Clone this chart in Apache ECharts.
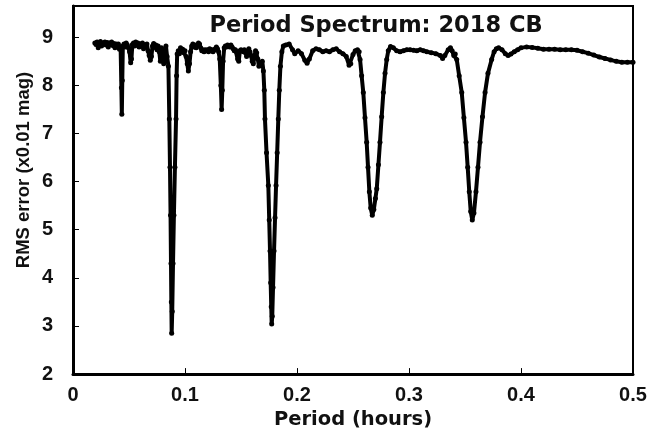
<!DOCTYPE html>
<html><head><meta charset="utf-8">
<script src="https://cdn.jsdelivr.net/npm/echarts@6/dist/echarts.min.js"></script>
<style>html,body{margin:0;padding:0;background:#fff}#c{width:662px;height:435px}</style>
</head><body><div id="c"></div>
<script>
const chartTitle = 'Period Spectrum: 2018 CB';
const xAxisName = 'Period (hours)';
const yAxisName = 'RMS error (x0.01 mag)';
const xTicks = [0, 0.1, 0.2, 0.3, 0.4, 0.5];
const yTicks = [2, 3, 4, 5, 6, 7, 8, 9];

// Period (hours)
const periodHours = [
0.0195,0.0205,0.0215,0.0225,0.0235,0.0245,0.0255,0.0265,0.0275,0.0285,0.0295,0.0305,0.0315,0.0325,0.0335,0.0345,0.0355,0.0365,0.0375,0.0385,0.0395,0.0405,0.0415,0.0425,0.0432,0.0436,0.0440,0.0445,0.0455,0.0465,0.0475,0.0485,0.0495,0.0505,0.0515,0.0522,0.0530,0.0540,0.0550,0.0560,0.0570,0.0580,0.0590,0.0600,0.0610,0.0620,0.0630,0.0640,0.0650,0.0660,0.0670,0.0680,0.0690,0.0700,0.0710,0.0720,0.0730,0.0740,0.0750,0.0760,0.0770,0.0780,0.0790,0.0800,0.0810,0.0820,0.0830,0.0840,
0.0852,0.0860,0.0866,0.0871,0.0875,0.0878,0.0881,0.0886,0.0893,0.0901,0.0910,0.0920,0.0925,0.0930,
0.0940,0.0950,0.0960,0.0970,0.0980,0.0990,0.1000,0.1010,0.1020,0.1030,0.1040,0.1050,0.1060,0.1070,0.1080,0.1090,0.1100,0.1110,0.1120,0.1130,0.1140,0.1150,0.1160,0.1170,0.1180,0.1190,0.1200,0.1210,0.1220,0.1230,0.1240,0.1250,0.1260,0.1270,0.1280,0.1290,0.1300,0.1310,0.1320,0.1327,0.1333,0.1340,0.1350,0.1360,0.1370,0.1380,0.1390,0.1400,0.1410,0.1420,0.1430,0.1440,0.1450,0.1460,0.1470,0.1480,0.1490,0.1500,0.1510,0.1520,0.1530,0.1540,0.1550,0.1560,0.1570,0.1580,0.1590,0.1600,0.1610,0.1620,0.1630,0.1640,0.1650,0.1660,
0.1690,0.1700,0.1708,0.1714,0.1728,0.1744,0.1752,0.1759,0.1765,0.1770,0.1774,0.1779,0.1786,0.1795,0.1804,0.1813,0.1823,0.1833,0.1842,0.1852,0.1865,0.1878,
0.1900,0.1930,0.1960,0.1980,0.2010,0.2040,0.2070,0.2090,0.2110,0.2140,0.2170,0.2200,0.2230,0.2260,0.2290,0.2320,0.2350,0.2380,0.2410,0.2440,0.2465,0.2480,0.2500,0.2520,0.2540,0.2555,
0.2563,0.2577,0.2592,0.2607,0.2622,0.2634,0.2646,0.2658,0.2672,0.2686,0.2700,0.2712,0.2727,0.2741,0.2756,0.2771,0.2786,0.2801,0.2815,0.2835,
0.2860,0.2890,0.2920,0.2950,0.2980,0.3010,0.3040,0.3070,0.3100,0.3130,0.3160,0.3200,0.3240,0.3280,0.3300,0.3320,0.3350,0.3370,0.3385,0.3400,
0.3413,0.3426,0.3448,0.3471,0.3490,0.3509,0.3524,0.3538,0.3551,0.3565,0.3580,0.3598,0.3616,0.3634,0.3656,0.3679,0.3705,0.3738,0.3760,0.3780,
0.3800,0.3830,0.3860,0.3885,0.3910,0.3940,0.3970,0.4000,0.4050,0.4100,0.4150,0.4200,0.4250,0.4300,0.4350,0.4400,0.4450,0.4500,0.4550,0.4600,0.4650,0.4700,0.4750,0.4800,0.4850,0.4900,0.4950,0.5000
];

// RMS error (x0.01 mag)
const rmsError = [
8.88,8.85,8.90,8.78,8.87,8.91,8.82,8.88,8.86,8.90,8.84,8.89,8.80,8.88,8.85,8.90,8.83,8.87,8.78,8.86,8.82,8.86,8.75,8.80,7.95,7.40,8.10,8.82,8.86,8.80,8.88,8.84,8.78,8.70,8.47,8.55,8.85,8.88,8.82,8.90,8.84,8.88,8.80,8.86,8.82,8.88,8.76,8.84,8.80,8.86,8.72,8.62,8.52,8.60,8.82,8.87,8.80,8.84,8.74,8.82,8.70,8.50,8.78,8.66,8.45,8.72,8.82,8.60,
8.40,7.30,6.30,5.30,4.30,3.50,2.85,3.30,4.30,5.30,6.30,7.30,8.20,8.65,
8.72,8.66,8.78,8.70,8.75,8.68,8.72,8.60,8.45,8.30,8.45,8.70,8.82,8.86,8.80,8.84,8.78,8.84,8.88,8.86,8.78,8.72,8.74,8.70,8.74,8.72,8.74,8.70,8.76,8.72,8.74,8.70,8.73,8.76,8.80,8.76,8.70,8.55,8.00,7.50,7.90,8.50,8.78,8.82,8.80,8.84,8.82,8.80,8.84,8.80,8.76,8.72,8.74,8.70,8.55,8.50,8.72,8.74,8.72,8.70,8.74,8.68,8.60,8.72,8.76,8.70,8.62,8.50,8.45,8.60,8.72,8.68,8.55,8.40,
8.50,8.30,7.90,7.30,6.60,5.92,5.20,4.56,3.90,3.40,3.04,3.20,3.80,4.56,5.25,5.92,6.60,7.30,7.90,8.40,8.70,8.82,
8.84,8.86,8.74,8.66,8.72,8.66,8.52,8.46,8.55,8.72,8.76,8.74,8.70,8.72,8.70,8.74,8.76,8.70,8.66,8.60,8.42,8.45,8.64,8.72,8.74,8.70,
8.54,8.20,7.85,7.33,6.82,6.30,5.79,5.45,5.30,5.42,5.65,5.85,6.35,6.82,7.35,7.85,8.25,8.54,8.72,8.81,
8.78,8.72,8.70,8.72,8.74,8.74,8.73,8.72,8.74,8.72,8.70,8.68,8.66,8.62,8.56,8.62,8.74,8.78,8.72,8.62,
8.65,8.54,8.20,7.85,7.33,6.82,6.30,5.79,5.38,5.20,5.35,5.79,6.30,6.82,7.35,7.85,8.25,8.54,8.70,8.76,
8.78,8.74,8.66,8.62,8.65,8.70,8.74,8.78,8.80,8.79,8.77,8.75,8.75,8.75,8.74,8.74,8.74,8.73,8.70,8.67,8.63,8.59,8.56,8.53,8.50,8.48,8.48,8.48
];

const seriesData = periodHours.map((p, i) => [p, rmsError[i]]);
const chart = echarts.init(document.getElementById('c'), null, {renderer: 'canvas'});
const labelFont = {color: '#111', fontFamily: 'Liberation Sans, Arial', fontWeight: 'bold', fontSize: 20};
chart.setOption({
  animation: false,
  backgroundColor: '#fff',
  title: {
    text: chartTitle, left: 371, top: 10, textAlign: 'center',
    textStyle: {fontFamily: 'DejaVu Sans', fontWeight: 'bold', fontSize: 22.5, color: '#111'}
  },
  grid: {left: 73, right: 29, top: 6, bottom: 58, show: true, borderColor: '#000', borderWidth: 2, backgroundColor: 'transparent'},
  graphic: [{
    type: 'text', x: 24, y: 170, rotation: Math.PI / 2,
    style: {text: yAxisName, textAlign: 'center', textVerticalAlign: 'middle',
      font: 'bold 18.5px "Liberation Sans", Arial', fill: '#111'}
  }],
  xAxis: {
    type: 'value', min: 0, max: 0.5, interval: 0.1,
    name: xAxisName, nameLocation: 'middle', nameGap: 28,
    nameTextStyle: {fontFamily: 'DejaVu Sans', fontWeight: 'bold', fontSize: 19.5, color: '#111'},
    axisLine: {show: true, lineStyle: {color: '#000', width: 3}},
    axisTick: {show: true, inside: true, length: 6, lineStyle: {color: '#000', width: 1}},
    axisLabel: Object.assign({margin: 11, formatter: v => {
      const t = xTicks.find(k => Math.abs(k - v) < 1e-9); return t === undefined ? '' : String(t);
    }}, labelFont),
    splitLine: {show: false}
  },
  yAxis: {
    type: 'value', min: 2, max: 9.65, interval: 1,
    axisLine: {show: true, lineStyle: {color: '#000', width: 3}},
    axisTick: {show: true, inside: true, length: 6, lineStyle: {color: '#000', width: 1}},
    axisLabel: Object.assign({margin: 20, formatter: v => {
      const t = yTicks.find(k => Math.abs(k - v) < 1e-9); return t === undefined ? '' : String(t);
    }}, labelFont),
    splitLine: {show: false}
  },
  series: [{
    type: 'line', data: seriesData,
    showSymbol: true, showAllSymbol: true, symbol: 'circle', symbolSize: 5,
    itemStyle: {color: '#000'},
    lineStyle: {color: '#000', width: 4},
    clip: true
  }]
});
</script></body></html>
